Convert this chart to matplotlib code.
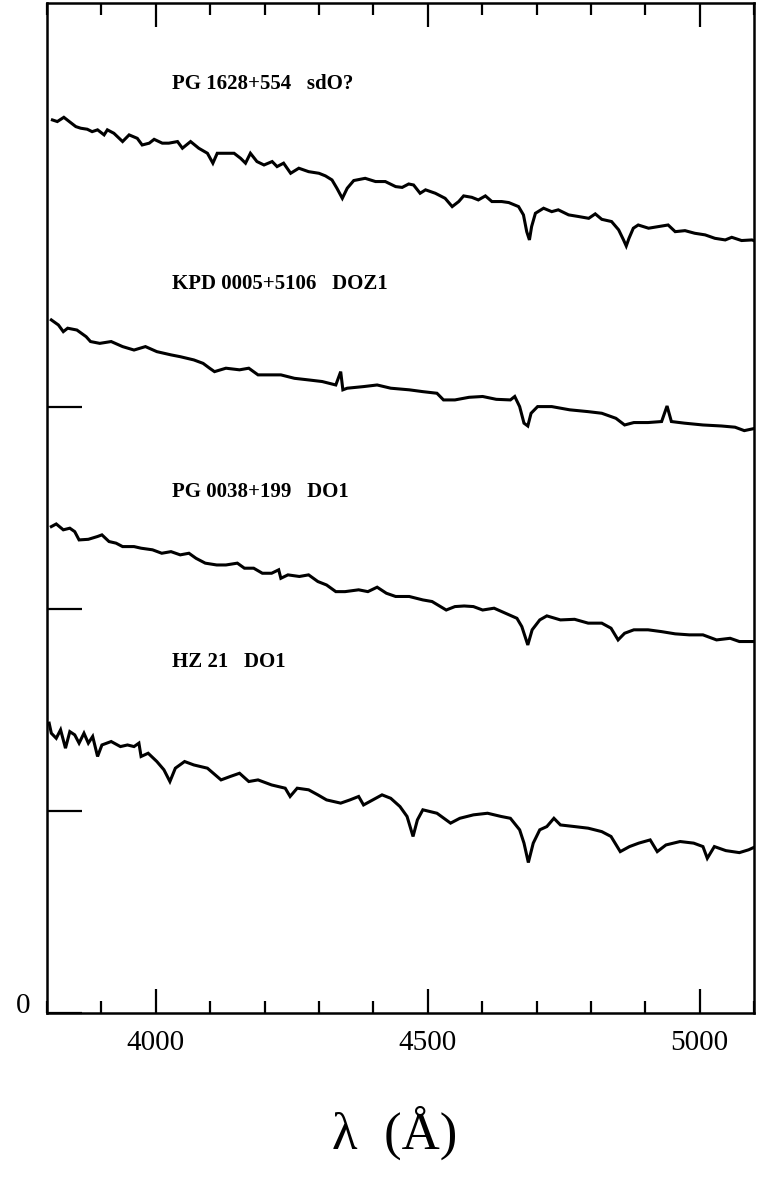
import matplotlib
matplotlib.use("Agg")
import matplotlib.pyplot as plt
from matplotlib.ticker import MultipleLocator

plt.rcParams['font.family'] = ['Liberation Serif', 'DejaVu Serif']

# spectra (wavelength in A, offset flux)
wl_pg1628 = [3810, 3819, 3831, 3841, 3853, 3862, 3874, 3883, 3893, 3905, 3911, 3923, 3939, 3951,
             3966, 3975, 3988, 3997, 4012, 4024, 4040, 4049, 4064, 4079, 4095, 4105, 4113, 4128,
             4144, 4156, 4165, 4174, 4186, 4199, 4214, 4223, 4235, 4248, 4263, 4281, 4300, 4312,
             4324, 4333, 4343, 4352, 4364, 4385, 4404, 4422, 4441, 4453, 4465, 4474, 4486, 4496,
             4514, 4532, 4545, 4557, 4566, 4581, 4593, 4606, 4618, 4636, 4649, 4667, 4676, 4682,
             4687, 4691, 4698, 4713, 4728, 4740, 4759, 4777, 4796, 4808, 4820, 4838, 4851, 4860,
             4865, 4870, 4878, 4887, 4906, 4924, 4942, 4955, 4973, 4991, 5010, 5028, 5047, 5059,
             5077, 5096, 5105]
fx_pg1628 = [4.421, 4.413, 4.434, 4.413, 4.388, 4.380, 4.375, 4.363, 4.372, 4.347, 4.372, 4.355,
             4.314, 4.347, 4.330, 4.297, 4.306, 4.325, 4.306, 4.306, 4.314, 4.281, 4.314, 4.281,
             4.256, 4.207, 4.256, 4.256, 4.256, 4.231, 4.207, 4.256, 4.215, 4.198, 4.215, 4.190,
             4.207, 4.157, 4.182, 4.165, 4.157, 4.144, 4.124, 4.083, 4.033, 4.083, 4.121, 4.132,
             4.116, 4.116, 4.091, 4.087, 4.104, 4.099, 4.058, 4.075, 4.058, 4.033, 3.992, 4.017,
             4.045, 4.038, 4.025, 4.045, 4.017, 4.017, 4.012, 3.992, 3.951, 3.868, 3.827, 3.893,
             3.959, 3.984, 3.967, 3.976, 3.951, 3.943, 3.934, 3.956, 3.929, 3.918, 3.877, 3.827,
             3.797, 3.835, 3.885, 3.901, 3.885, 3.893, 3.901, 3.868, 3.873, 3.860, 3.852, 3.835,
             3.827, 3.840, 3.824, 3.827, 3.819]

wl_kpd = [3808, 3821, 3830, 3838, 3855, 3872, 3880, 3897, 3918, 3939, 3960, 3981, 4002, 4028,
          4045, 4070, 4087, 4099, 4108, 4129, 4154, 4171, 4188, 4213, 4230, 4255, 4281, 4306,
          4331, 4340, 4344, 4352, 4382, 4407, 4432, 4466, 4491, 4517, 4529, 4550, 4576, 4601,
          4626, 4652, 4660, 4669, 4677, 4684, 4690, 4702, 4728, 4761, 4795, 4820, 4846, 4862,
          4879, 4905, 4930, 4940, 4948, 4972, 5006, 5040, 5065, 5082, 5103]
fx_kpd = [3.431, 3.406, 3.373, 3.390, 3.381, 3.348, 3.324, 3.315, 3.324, 3.299, 3.282, 3.299,
          3.274, 3.258, 3.249, 3.233, 3.216, 3.192, 3.175, 3.192, 3.184, 3.192, 3.159, 3.159,
          3.159, 3.142, 3.134, 3.126, 3.109, 3.175, 3.085, 3.093, 3.101, 3.109, 3.093, 3.085,
          3.076, 3.068, 3.035, 3.035, 3.048, 3.052, 3.038, 3.035, 3.052, 3.002, 2.920, 2.906,
          2.969, 3.002, 3.002, 2.986, 2.977, 2.969, 2.944, 2.911, 2.923, 2.923, 2.928, 3.005,
          2.928, 2.920, 2.911, 2.906, 2.900, 2.883, 2.895]

wl_pg0038 = [3808, 3817, 3830, 3842, 3851, 3859, 3876, 3893, 3901, 3914, 3927, 3939, 3960, 3973,
             3994, 4011, 4028, 4045, 4061, 4074, 4091, 4112, 4129, 4150, 4163, 4180, 4196, 4213,
             4226, 4230, 4243, 4264, 4281, 4298, 4314, 4331, 4348, 4373, 4390, 4407, 4424, 4441,
             4466, 4491, 4508, 4534, 4550, 4567, 4584, 4601, 4622, 4643, 4664, 4673, 4684, 4692,
             4706, 4719, 4744, 4770, 4795, 4820, 4837, 4850, 4862, 4879, 4905, 4930, 4955, 4981,
             5006, 5031, 5056, 5073, 5099]
fx_pg0038 = [2.408, 2.421, 2.392, 2.400, 2.383, 2.342, 2.345, 2.359, 2.367, 2.334, 2.326, 2.309,
             2.309, 2.301, 2.293, 2.276, 2.284, 2.268, 2.276, 2.251, 2.227, 2.218, 2.218, 2.227,
             2.202, 2.202, 2.177, 2.177, 2.194, 2.152, 2.169, 2.161, 2.169, 2.136, 2.119, 2.086,
             2.086, 2.095, 2.086, 2.108, 2.078, 2.062, 2.062, 2.045, 2.037, 1.995, 2.012, 2.015,
             2.012, 1.995, 2.004, 1.979, 1.954, 1.913, 1.822, 1.897, 1.946, 1.966, 1.946, 1.949,
             1.930, 1.930, 1.905, 1.847, 1.880, 1.897, 1.897, 1.888, 1.877, 1.872, 1.872, 1.847,
             1.855, 1.839, 1.839]

wl_hz21 = [3804, 3808, 3817, 3825, 3834, 3842, 3851, 3859, 3868, 3876, 3884, 3893, 3901, 3918,
           3935, 3948, 3960, 3969, 3973, 3986, 4002, 4015, 4026, 4036, 4053, 4070, 4095, 4120,
           4137, 4154, 4171, 4188, 4213, 4238, 4247, 4260, 4281, 4298, 4314, 4340, 4357, 4373,
           4382, 4399, 4416, 4432, 4449, 4462, 4473, 4481, 4491, 4517, 4542, 4559, 4584, 4610,
           4635, 4652, 4669, 4677, 4685, 4694, 4706, 4719, 4732, 4744, 4770, 4795, 4820, 4837,
           4854, 4871, 4888, 4909, 4922, 4938, 4964, 4989, 5006, 5014, 5027, 5048, 5073, 5090,
           5103]
fx_hz21 = [1.435, 1.385, 1.360, 1.402, 1.311, 1.393, 1.377, 1.336, 1.385, 1.336, 1.369, 1.270,
           1.327, 1.344, 1.319, 1.327, 1.319, 1.336, 1.270, 1.286, 1.245, 1.204, 1.146, 1.212,
           1.245, 1.228, 1.212, 1.154, 1.171, 1.187, 1.146, 1.154, 1.129, 1.113, 1.072, 1.113,
           1.105, 1.080, 1.055, 1.039, 1.055, 1.072, 1.030, 1.055, 1.080, 1.063, 1.022, 0.973,
           0.874, 0.956, 1.006, 0.989, 0.940, 0.964, 0.981, 0.989, 0.973, 0.964, 0.907, 0.841,
           0.745, 0.841, 0.907, 0.923, 0.964, 0.931, 0.923, 0.915, 0.898, 0.874, 0.799, 0.824,
           0.841, 0.857, 0.799, 0.832, 0.849, 0.841, 0.824, 0.766, 0.824, 0.804, 0.794, 0.808,
           0.824]

labels = ["PG 1628+554   sdO?", "KPD 0005+5106   DOZ1", "PG 0038+199   DO1", "HZ 21   DO1"]
label_y = [4.60, 3.61, 2.58, 1.74]

fig = plt.figure(figsize=(7.64, 11.89), dpi=100)
ax = fig.add_axes([0.0615, 0.148, 0.9255, 0.8495])

for wl, fx in [(wl_pg1628, fx_pg1628), (wl_kpd, fx_kpd), (wl_pg0038, fx_pg0038), (wl_hz21, fx_hz21)]:
    ax.plot(wl, fx, color='black', lw=2.2, solid_joinstyle='miter')

for txt, yy in zip(labels, label_y):
    ax.text(4030, yy, txt, fontsize=15, fontweight='bold', va='center', ha='left')

ax.set_xlim(3800, 5100)
ax.set_ylim(0, 5)

ax.xaxis.set_major_locator(MultipleLocator(500))
ax.xaxis.set_minor_locator(MultipleLocator(100))
ax.tick_params(axis='x', which='major', direction='in', length=17, width=1.6, top=True,
               labelsize=21, pad=12)
ax.tick_params(axis='x', which='minor', direction='in', length=8.5, width=1.6, top=True)

ax.set_yticks([0, 1, 2, 3])
ax.set_yticklabels(['0', '', '', ''])
ax.tick_params(axis='y', which='major', direction='in', length=25, width=1.6, right=False,
               labelsize=21, pad=12)
for lab in ax.get_yticklabels():
    lab.set_va('baseline')

for sp in ax.spines.values():
    sp.set_linewidth(1.8)

fig.text(0.517, 0.047, "λ  (Å)", fontsize=38, ha='center', va='center')

fig.savefig("out.png", dpi=100)
